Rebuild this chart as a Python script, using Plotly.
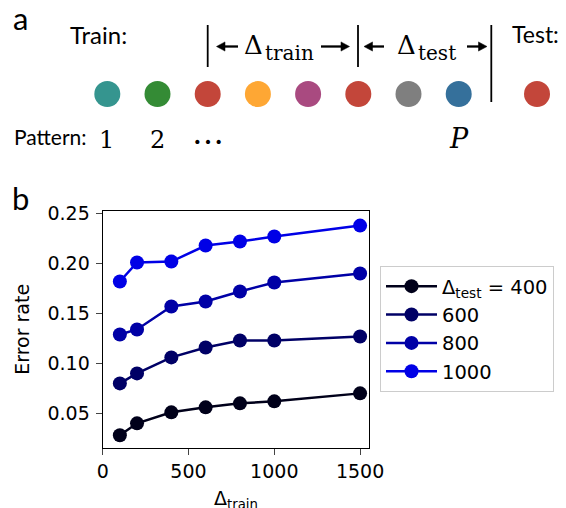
import plotly.graph_objects as go

W, H = 566, 508
OFF = 8                      # browser body margin
FW, FH = W - OFF, H - OFF    # figure size

# ---------------- Panel b data ----------------
delta_train = [100, 200, 400, 600, 800, 1000, 1500]
delta_test = [400, 600, 800, 1000]
err_400 = [0.028, 0.040, 0.051, 0.056, 0.060, 0.062, 0.070]
err_600 = [0.080, 0.090, 0.106, 0.116, 0.123, 0.123, 0.127]
err_800 = [0.129, 0.134, 0.157, 0.162, 0.172, 0.181, 0.190]
err_1000 = [0.182, 0.201, 0.202, 0.218, 0.222, 0.227, 0.238]
series_colors = ["#00001a", "#000066", "#0000a6", "#0000e6"]
legend_names = ["Δ<sub>test</sub> = 400", "600", "800", "1000"]
x_ticks = [0, 500, 1000, 1500]
y_ticks = [0.05, 0.10, 0.15, 0.20, 0.25]
y_ticklabels = ["0.05", "0.10", "0.15", "0.20", "0.25"]

# ---------------- Panel a data ----------------
pattern_index = [1, 2, 3, 4, 5, 6, 7, 8]
pattern_colors = ["#35958f", "#348b35", "#c3463a", "#fea734",
                  "#a94a80", "#c3463a", "#7f7f7f", "#35709b"]
test_color = "#c3463a"
TEST_GAP = 1.56


def px(x):
    return (x - OFF) / FW


def py(y):
    return 1 - (y - OFF) / FH


fig = go.Figure()

series = [err_400, err_600, err_800, err_1000]
for name, ys, col in zip(legend_names, series, series_colors):
    fig.add_trace(go.Scatter(
        x=delta_train, y=ys, name=name, mode="lines+markers",
        line=dict(color=col, width=2.5),
        marker=dict(color=col, size=14),
        xaxis="x", yaxis="y",
    ))

# panel a dots
fig.add_trace(go.Scatter(
    x=pattern_index, y=[0] * len(pattern_index), mode="markers",
    marker=dict(color=pattern_colors, size=26, line=dict(width=0)),
    xaxis="x2", yaxis="y2", showlegend=False, hoverinfo="skip",
))
fig.add_trace(go.Scatter(
    x=[pattern_index[-1] + TEST_GAP], y=[0], mode="markers",
    marker=dict(color=test_color, size=26, line=dict(width=0)),
    xaxis="x2", yaxis="y2", showlegend=False, hoverinfo="skip",
))

SANS = "DejaVu Sans"
GILL = "Lato"
SERIF = "DejaVu Serif"

annotations = []
shapes = []


def txt(text, x, y, size, family, xanchor="center", yanchor="middle"):
    annotations.append(dict(
        text=text, x=px(x), y=py(y), xref="paper", yref="paper",
        showarrow=False, xanchor=xanchor, yanchor=yanchor,
        font=dict(size=size, family=family, color="black"),
    ))


def arrow(x_tail, x_head, y, head_len=8.5, half_h=4.6, lw=2.3):
    d = 1 if x_head > x_tail else -1
    x_base = x_head - d * head_len
    shapes.append(dict(type="line", xref="paper", yref="paper",
                       x0=px(x_tail), x1=px(x_base + d * 1.5),
                       y0=py(y), y1=py(y),
                       line=dict(color="black", width=lw)))
    path = "M {:.5f},{:.5f} L {:.5f},{:.5f} L {:.5f},{:.5f} Z".format(
        px(x_head), py(y), px(x_base), py(y - half_h), px(x_base), py(y + half_h))
    shapes.append(dict(type="path", xref="paper", yref="paper", path=path,
                       fillcolor="black", line=dict(color="black", width=0.5)))


txt("a", 20, 17.7, 31, GILL)
txt("b", 20, 197.7, 31, GILL)
txt("Train:", 68, 34.5, 24, GILL, xanchor="left")
txt("Test:", 510, 34.2, 23, GILL, xanchor="left")
txt("Pattern:", 12, 136.7, 21, GILL, xanchor="left")
txt("1", 106, 139.8, 24, SERIF)
txt("2", 157, 139.8, 24, SERIF)
txt("…", 208, 133.4, 32, SERIF)
txt("<i>P</i>", 459, 138.9, 27, SERIF)

txt("Δ", 241.5, 45.5, 26, SERIF, xanchor="left")
txt("train", 263, 53.3, 20, SERIF, xanchor="left")
txt("Δ", 394.5, 45.5, 26, SERIF, xanchor="left")
txt("test", 416, 53.3, 20, SERIF, xanchor="left")

# x-axis title of panel b
txt("Δ<sub>train</sub>", 235.8, 499, 19, SANS)

arrow(238, 216.5, 46.5)
arrow(321, 349.5, 46.5)
arrow(384, 364, 46.5)
arrow(467, 487, 46.5)

for xb, y0, y1 in [(207.7, 25, 67), (358, 25, 67), (491.3, 25, 102)]:
    shapes.append(dict(type="line", xref="paper", yref="paper",
                       x0=px(xb), x1=px(xb), y0=py(y0), y1=py(y1),
                       line=dict(color="black", width=1.8)))

x2_lo = 1 - (107.3 - OFF) / 50.2
fig.update_layout(
    width=FW, height=FH,
    margin=dict(l=0, r=0, t=0, b=0),
    paper_bgcolor="white", plot_bgcolor="white",
    font=dict(family=SANS, size=19, color="black"),
    xaxis=dict(
        domain=[px(102.7), px(369)], range=[0, 1552],
        tickvals=x_ticks, ticks="outside", ticklen=6, tickwidth=1.2,
        showline=True, linecolor="black", linewidth=1.3, mirror=True,
        showgrid=False, zeroline=False,
        tickfont=dict(family=SANS, size=19),
        automargin=False,
    ),
    yaxis=dict(
        domain=[py(447.7), py(211)], range=[0.0156, 0.2526],
        tickvals=y_ticks, ticktext=y_ticklabels,
        ticks="outside", ticklen=6, tickwidth=1.2, ticklabelstandoff=2,
        showline=True, linecolor="black", linewidth=1.3, mirror=True,
        showgrid=False, zeroline=False,
        tickfont=dict(family=SANS, size=19),
        title=dict(text="Error rate", font=dict(family=SANS, size=19),
                   standoff=12),
        automargin=False,
    ),
    xaxis2=dict(domain=[0, 1], range=[x2_lo, x2_lo + FW / 50.2],
                visible=False, fixedrange=True),
    yaxis2=dict(domain=[py(119), py(69)], range=[-1, 1], visible=False,
                fixedrange=True),
    legend=dict(
        x=px(380), y=py(266), xanchor="left", yanchor="top",
        bordercolor="#cccccc", borderwidth=1, bgcolor="white",
        font=dict(family=SANS, size=19.5),
        itemwidth=51, tracegroupgap=0,
    ),
    annotations=annotations,
    shapes=shapes,
    showlegend=True,
)

fig.write_html("out.html")
